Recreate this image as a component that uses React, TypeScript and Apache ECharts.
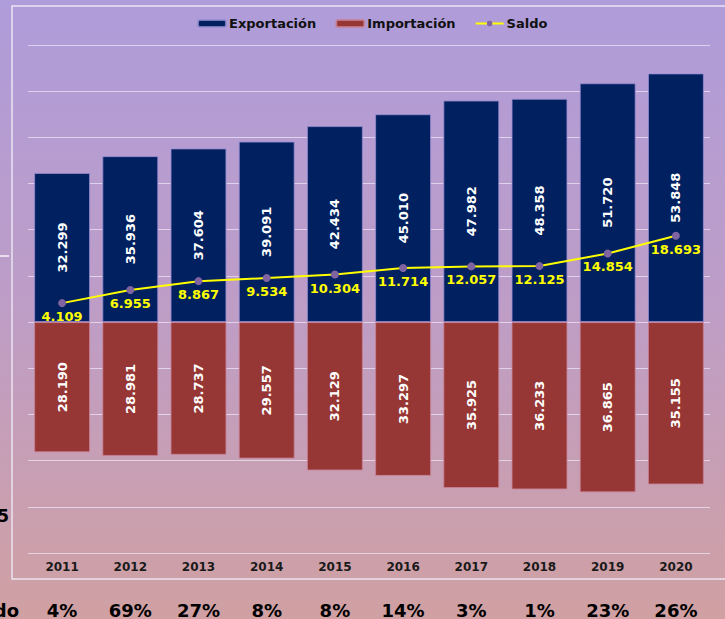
import React, { useEffect, useRef } from "react";
import * as echarts from "echarts";

const years = ["2011", "2012", "2013", "2014", "2015", "2016", "2017", "2018", "2019", "2020"];
const exportacion = [32299, 35936, 37604, 39091, 42434, 45010, 47982, 48358, 51720, 53848];
const importacion = [28190, 28981, 28737, 29557, 32129, 33297, 35925, 36233, 36865, 35155];
const saldo = [4109, 6955, 8867, 9534, 10304, 11714, 12057, 12125, 14854, 18693];
const variacionSaldo = ["4%", "69%", "27%", "8%", "8%", "14%", "3%", "1%", "23%", "26%"];

const fmt = (n: number) => String(Math.abs(Math.round(n))).replace(/\B(?=(\d{3})+(?!\d))/g, ".");

const FONT = "DejaVu Sans, Verdana, sans-serif";

export default function App() {
  const ref = useRef<HTMLDivElement>(null);
  useEffect(() => {
    if (!ref.current) return;
    const chart = echarts.init(ref.current, undefined, { renderer: "svg" });
    chart.setOption({
      animation: false,
      backgroundColor: new echarts.graphic.LinearGradient(0, 0, 0, 1, [
        { offset: 0, color: "#AF9CDA" },
        { offset: 0.5, color: "#BE9DC6" },
        { offset: 1, color: "#D0A0A2" },
      ]),
      textStyle: { fontFamily: FONT },
      legend: {
        left: 192,
        top: 12,
        itemWidth: 28,
        itemHeight: 7,
        itemGap: 19,
        textStyle: { fontSize: 13, fontWeight: "bold", color: "#111", fontFamily: FONT, padding: [0, 0, 0, -2] },
        data: ["Exportación", "Importación", "Saldo"],
      },
      grid: { left: 28, right: 15, top: 45, bottom: 66 },
      xAxis: [
        {
          type: "category",
          data: years,
          axisLine: { show: false, onZero: false },
          axisTick: { show: false },
          axisLabel: { fontSize: 12, fontWeight: "bold", color: "#1a1a1a", margin: 8, fontFamily: FONT },
        },
        {
          type: "category",
          data: variacionSaldo,
          position: "bottom",
          offset: 40,
          axisLine: { show: false },
          axisTick: { show: false },
          axisLabel: { fontSize: 18, fontWeight: "bold", color: "#000", margin: 8, fontFamily: FONT },
        },
      ],
      yAxis: {
        type: "value",
        min: -50000,
        max: 60000,
        interval: 10000,
        axisLabel: { show: false },
        axisLine: { show: false },
        axisTick: { show: false },
        splitLine: { lineStyle: { color: "rgba(236,228,246,0.75)", width: 1 } },
      },
      series: [
        {
          name: "Exportación",
          type: "bar",
          stack: "total",
          barCategoryGap: "18%",
          data: exportacion,
          itemStyle: { color: "#00205F", borderColor: "rgba(150,140,210,0.8)", borderWidth: 1 },
          label: {
            show: true,
            position: "inside",
            rotate: 90,
            color: "#fff",
            fontSize: 13,
            fontWeight: "bold",
            fontFamily: FONT,
            formatter: (p: any) => fmt(p.value),
          },
        },
        {
          name: "Importación",
          type: "bar",
          stack: "total",
          data: importacion.map((v) => -v),
          itemStyle: { color: "#963735", borderColor: "rgba(200,130,150,0.8)", borderWidth: 1 },
          label: {
            show: true,
            position: "inside",
            rotate: 90,
            color: "#fff",
            fontSize: 13,
            fontWeight: "bold",
            fontFamily: FONT,
            formatter: (p: any) => fmt(p.value),
          },
        },
        {
          name: "Saldo",
          type: "line",
          data: saldo,
          z: 5,
          symbol: "circle",
          symbolSize: 8,
          itemStyle: { color: "#8064A2" },
          lineStyle: { color: "#FFFF00", width: 2 },
          label: {
            show: true,
            position: "bottom",
            distance: 3,
            color: "#FFFF00",
            fontSize: 13,
            fontWeight: "bold",
            fontFamily: FONT,
            formatter: (p: any) => fmt(p.value),
          },
        },
      ],
      graphic: [
        {
          type: "rect",
          shape: { x: 12, y: 6, width: 800, height: 573 },
          style: { fill: "none", stroke: "rgba(240,236,248,0.9)", lineWidth: 1.5 },
          silent: true,
        },
        {
          type: "line",
          shape: { x1: 0, y1: 256, x2: 9, y2: 256 },
          style: { stroke: "rgba(255,255,255,0.9)", lineWidth: 1.5 },
          silent: true,
        },
        {
          type: "text",
          x: 9,
          y: 516,
          style: { text: "5", fontSize: 17, fontWeight: "bold", fill: "#000", align: "right", verticalAlign: "middle", fontFamily: FONT },
          silent: true,
        },
        {
          type: "text",
          x: 19,
          y: 610,
          style: { text: "Saldo", fontSize: 18, fontWeight: "bold", fill: "#000", align: "right", verticalAlign: "middle", fontFamily: FONT },
          silent: true,
        },
      ],
    });
    return () => chart.dispose();
  }, []);
  return <div ref={ref} style={{ position: "fixed", left: 0, top: 0, width: 725, height: 619 }} />;
}
